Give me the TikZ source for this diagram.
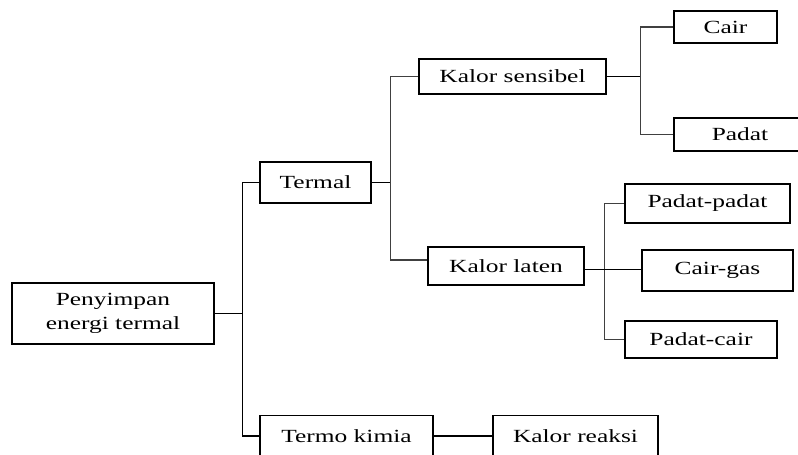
\documentclass[tikz,border=0pt]{standalone}
\usepackage{fontspec}
\setmainfont{Liberation Serif}[FakeStretch=1.37]
\usetikzlibrary{positioning}

\begin{document}
\begin{tikzpicture}[x=0.25mm, y=-0.25mm,
  every node/.style={font=\fontsize{13.2}{17}\selectfont},
  kotak/.style={draw, line width=0.9pt, inner sep=0pt, align=center},
  garis/.style={line width=0.8pt},
  batang/.style={line width=1pt, black!75}]

\useasboundingbox (0,0) rectangle (798,454);
\clip (0,0) rectangle (798,454);

\node[kotak, minimum width=50.5mm, minimum height=15.25mm] (penyimpan) at (113,313.5) {Penyimpan\\energi termal};

\node[kotak, minimum width=27.75mm, minimum height=10.25mm] (termal) at (315.5,182.5) {Termal};
\node[kotak, minimum width=43.25mm, minimum height=10.25mm] (termo) at (346.5,436) {Termo kimia};
\node[kotak, minimum width=41.25mm, minimum height=10.25mm] (reaksi) at (575.5,436) {Kalor reaksi};


\node[kotak, minimum width=46.75mm, minimum height=8.75mm] (sensibel) at (512.5,76.5) {Kalor sensibel};
\node[kotak, minimum width=39mm, minimum height=9.5mm] (laten) at (506,266) {Kalor laten};


\node[kotak, minimum width=25.75mm, minimum height=8mm] (cair) at (725.5,27) {Cair};
\node[kotak, minimum width=33mm, minimum height=8.25mm] (padat) at (740,134.5) {Padat};


\node[kotak, minimum width=41.25mm, minimum height=9.75mm] (padatpadat) at (707.5,203.5) {Padat-padat};
\node[kotak, minimum width=37.75mm, minimum height=10.25mm] (cairgas) at (717.5,270.5) {Cair-gas};
\node[kotak, minimum width=38mm, minimum height=9.25mm] (padatcair) at (701,339.5) {Padat-cair};


\draw[garis] (penyimpan.east) -- ++(28,0) coordinate (j1);
\draw[garis] (j1) |- (termal.west);
\draw[garis] (j1) |- (termo.west);
\draw[garis] (termo) -- (reaksi);

\draw[garis] (termal.east) -- ++(19,0) coordinate (j2);
\draw[batang] (j2) |- (sensibel.west);
\draw[batang] (j2) |- ([yshift=1.5mm]laten.west);

\draw[garis] (sensibel.east) -- ++(34,0) coordinate (j3);
\draw[batang] (j3) |- (cair.west);
\draw[batang] (j3) |- (padat.west);

\path ([yshift=-0.8mm]laten.east) coordinate (l4) ++(20,0) coordinate (j4);
\draw[batang] (j4) |- (padatpadat.west);
\draw[batang] (j4) |- (padatcair.west);
\draw[garis] (l4) -- (l4 -| cairgas.west);

\end{tikzpicture}
\end{document}
